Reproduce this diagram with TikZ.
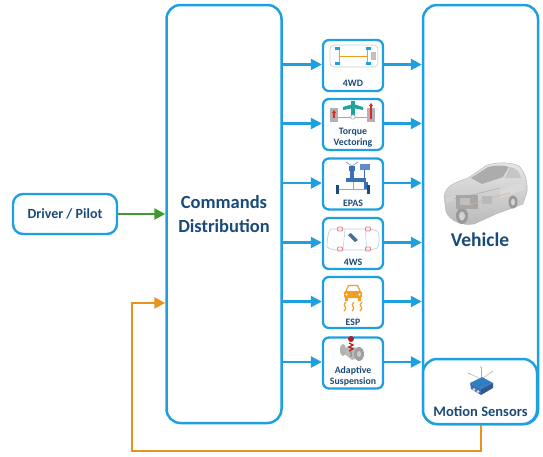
\documentclass[tikz,border=0pt]{standalone}
\usepackage{fontspec}
\setmainfont{Carlito}
\usetikzlibrary{arrows.meta,calc}
\definecolor{lblue}{HTML}{1EA0E0}
\definecolor{tblue}{HTML}{1B4A78}
\definecolor{garr}{HTML}{3C9A2E}
\definecolor{oarr}{HTML}{E8931E}
\definecolor{icblue}{HTML}{3B6FB6}
\definecolor{icorange}{HTML}{F0A020}
\definecolor{icteal}{HTML}{1FA39A}
\definecolor{icred}{HTML}{E02828}
\definecolor{icpink}{HTML}{F08080}
\begin{document}
\begin{tikzpicture}[x=1pt,y=-1pt,
  bigbox/.style={draw=lblue, line width=2.5pt, rounded corners=14pt, fill=white, inner sep=0pt, text=tblue},
  drvbox/.style={draw=lblue, line width=2.4pt, rounded corners=10pt, fill=white, inner sep=0pt, text=tblue},
  smallbox/.style={draw=lblue, line width=2.3pt, rounded corners=6pt, minimum width=60pt, minimum height=51pt, inner sep=0pt},
  lbl/.style={text=tblue, font=\bfseries\fontsize{9.8}{11}\selectfont, align=center, inner sep=0pt},
  barr/.style={draw=lblue, line width=2.4pt, -{Triangle[length=11pt,width=11pt]}},
  garrow/.style={draw=garr, line width=2.4pt, -{Triangle[length=11pt,width=11pt]}},
  oarrow/.style={draw=oarr, line width=2.4pt, -{Triangle[length=11pt,width=11pt]}}
]
\useasboundingbox (0,0) rectangle (543,456);

% big boxes
\node[bigbox, minimum width=115pt, minimum height=418pt, align=center,
      font=\bfseries\fontsize{18.5}{24}\selectfont] (cmd) at (224,214) {Commands\\Distribution};
\node[bigbox, minimum width=115pt, minimum height=419pt] (veh) at (480.5,214.5) {};
\node[bigbox, minimum width=114pt, minimum height=65pt] (ms) at (480,391.5) {};
\node[text=tblue, font=\bfseries\fontsize{19.5}{22}\selectfont, inner sep=0pt] (vehl) at (480,240) {Vehicle};
\node[text=tblue, font=\bfseries\fontsize{14.5}{16}\selectfont, inner sep=0pt] (msl) at (480.5,411) {Motion Sensors};
\node[drvbox, minimum width=104pt, minimum height=40pt, font=\bfseries\fontsize{14}{16}\selectfont] (drv) at (65,214) {Driver / Pilot};

% small boxes
\node[smallbox] (b1) at (353,65.5) {};
\node[smallbox] (b2) at (353,124.5) {};
\node[smallbox] (b3) at (353,184) {};
\node[smallbox] (b4) at (353,243.5) {};
\node[smallbox] (b5) at (353,302.5) {};
\node[smallbox] (b6) at (353,363) {};

\node[lbl] (l1) at (353,83) {4WD};
\node[lbl] (l2) at (353,137.5) {Torque\\Vectoring};
\node[lbl] (l3) at (353,203) {EPAS};
\node[lbl] (l4) at (353,262) {4WS};
\node[lbl] (l5) at (353,322) {ESP};
\node[lbl] (l6) at (353,376) {Adaptive\\Suspension};

% arrows
\foreach \b in {b1,b2,b3,b4,b5,b6}{
  \draw[barr] ([yshift=1pt]cmd.east |- \b.west) -- ([yshift=1pt]\b.west);
  \draw[barr] ([yshift=1pt]\b.east) -- ([yshift=1pt]\b.east -| veh.west);
}
\draw[garrow] (drv.east) -- (drv.east -| cmd.west);
\coordinate (o1) at (481,451);
\coordinate (o2) at (132,451);
\coordinate (o3) at (132,303);
\draw[oarrow] (ms.south -| o1) -- (o1) -- (o2) -- (o3) -- (o3 -| cmd.west);

% ---- icons ----
% 4WD
\draw[gray!40, line width=0.6pt, rounded corners=4pt] (330,45) rectangle (378,67);
\fill[gray!50] (371,52) rectangle (376,60);
\draw[icorange, line width=0.8pt] (339,50) -- (339,63) (367,50) -- (367,63) (339,56.5) -- (367,56.5);
\foreach \p in {(337,48.5),(337,63.5),(368,48.5),(368,63.5)} \fill[lblue] \p ++(-2.5,-1.2) rectangle ++(5,2.4);

% Torque vectoring
\fill[gray!60] (330,108) rectangle (338,122);
\fill[gray!60] (367,108) rectangle (375,122);
\draw[gray!70, line width=1pt] (338,117) -- (367,117);
\fill[icteal] (351,101) rectangle (355,116);
\fill[icteal] (343,107) -- (353,104) -- (363,107) -- (363,110) -- (353,108) -- (343,110) -- cycle;
\draw[gray!70, fill=white, line width=0.5pt] (353,117) circle (2.2);
\draw[icred, line width=1.6pt, -{Triangle[length=3pt,width=4pt]}] (334,118) -- (334,110);
\draw[icred, line width=1.6pt, -{Triangle[length=3pt,width=4pt]}] (371,119) -- (371,103);

% EPAS
\draw[icblue!60, line width=0.8pt] (346,162) -- (352,166) -- (358,162);
\fill[icblue] (349,166) rectangle (355,171);
\fill[icblue] (350,171) rectangle (354,182);
\fill[icblue] (346,178) rectangle (366,182);
\fill[icblue!80] (360,164) rectangle (370,170);
\draw[icblue, line width=0.8pt] (364,170) -- (364,182);
\fill[icblue] (364,182) rectangle (368,189);
\draw[icblue!60, line width=0.8pt] (338,189.5) -- (368,189.5) (353,182) -- (353,189.5);
\fill[tblue] (336,185) rectangle (339,194);
\fill[tblue] (367,185) rectangle (370,194);

% 4WS
\draw[icblue!35, line width=0.7pt, rounded corners=5pt] (331,229) -- (372,229) .. controls (380,232) and (380,247) .. (372,250) -- (331,250) .. controls (327,247) and (327,232) .. (331,229);
\draw[icblue!35, line width=0.5pt] (345,229) -- (343,250) (365,229) -- (367,250);
\foreach \p in {(340,229),(340,249),(368,229),(368,249)} \draw[icpink, line width=0.8pt, rounded corners=1pt] \p ++(-2.5,-2) rectangle ++(5,4);
\fill[tblue!80] (348,235) -- (351,233) -- (358,240) -- (355,242) -- cycle;

% ESP
\fill[icorange, rounded corners=1.5pt] (344,291) rectangle (362,298);
\draw[icorange, line width=1.2pt, line join=round] (346,291) -- (348.5,285.5) -- (357.5,285.5) -- (360,291);
\fill[icorange] (345,298) rectangle (348,301) (358,298) rectangle (361,301);
\fill[white] (346.5,294.5) circle (1.1) (359.5,294.5) circle (1.1);
\draw[icorange, line width=1.2pt] (344,311) .. controls (349,308) and (341,305) .. (346,302);
\draw[icorange, line width=1.2pt] (352,311) .. controls (357,308) and (349,305) .. (354,302);
\draw[icorange, line width=1.2pt] (360,311) .. controls (365,308) and (357,305) .. (362,302);

% Adaptive suspension
\fill[gray!55] (342,352) -- (348,346) -- (358,348) -- (363,356) -- (352,360) -- cycle;
\fill[gray!75] (359,354) ellipse (5 and 7);
\fill[gray!40] (359,354) ellipse (2 and 3);
\fill[gray!60] (343,350) ellipse (3 and 6);
\fill[icred!80!black] (351,339) circle (3);
\draw[icred!80!black, line width=1.2pt] (349,343) -- (353,345) -- (349,347) -- (353,349) -- (349,351);
\fill[gray!80] (350,351) rectangle (352,357);

% Motion sensor
\draw[gray!60, line width=0.5pt, -{Stealth[length=2pt]}] (481,377) -- (481,366);
\draw[gray!60, line width=0.5pt, -{Stealth[length=2pt]}] (479,378) -- (468,373);
\draw[gray!60, line width=0.5pt, -{Stealth[length=2pt]}] (483,378) -- (493,371);
\fill[icblue!70!lblue] (470,383) -- (482,377) -- (493,383) -- (481,389) -- cycle;
\fill[icblue] (470,383) -- (481,389) -- (481,395) -- (471,389) -- cycle;
\fill[icblue!80!black] (481,389) -- (493,383) -- (493,388) -- (481,395) -- cycle;
\fill[gray!30] (474,389.5) circle (1.6) (478,391.5) circle (1.6);

% Vehicle car
\shade[top color=gray!20, bottom color=gray!55, draw=gray!60, line width=0.4pt]
  (444,196) .. controls (446,187) and (452,183) .. (468,178) -- (487,165)
  .. controls (498,162) and (512,162) .. (519,166) .. controls (525,172) and (528,182) .. (527,192)
  -- (523,204) -- (496,214) -- (474,224) .. controls (462,226) and (450,221) .. (446,212) -- cycle;
\fill[gray!65] (471,178) -- (488,167) .. controls (496,165) and (504,165) .. (509,167) -- (503,177) -- (482,184) -- cycle;
\fill[gray!45] (510,167) .. controls (516,168) and (520,172) .. (521,178) -- (505,178) -- cycle;
\fill[gray!30] (500,190) -- (524,182) -- (524,190) -- (500,198) -- cycle;
\draw[gray!70, line width=0.4pt] (448,200) -- (476,194) -- (500,188);
\fill[gray!80] (462,216) ellipse (6 and 8);
\fill[gray!35] (462,216) ellipse (3 and 4.5);
\fill[gray!80] (513,202) ellipse (4.5 and 6.5);
\fill[gray!35] (513,202) ellipse (2 and 3.5);
\fill[gray!70] (456,195) rectangle (478,209);
\fill[gray!50] (460,198) rectangle (470,205);
\draw[brown!60, line width=0.6pt] (470,205) -- (490,198) -- (510,193);
\fill[gray!55] (482,196) rectangle (492,204);
\fill[gray!35] (446,198) -- (454,196) -- (454,200) -- (447,202) -- cycle;
\end{tikzpicture}
\end{document}
